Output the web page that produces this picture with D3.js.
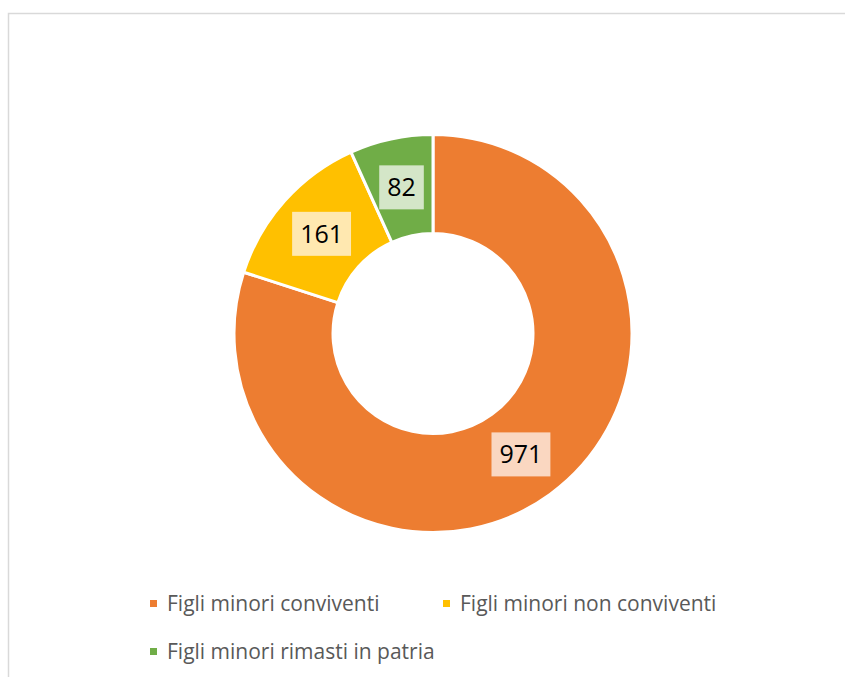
<!DOCTYPE html>
<html lang="it">
<head>
    <meta charset="UTF-8">
    <title>Figli minori</title>
    <script src="https://d3js.org/d3.v7.min.js"></script>
    <style>
        body { margin: 0; background: #fff; font-family: "Open Sans", sans-serif; }
        .legend-text { fill: #595959; font-size: 21px; }
        .label-text { fill: #000; font-size: 25px; }
    </style>
</head>
<body>
    <svg id="chart" width="845" height="677"></svg>
    <script>
        const categories = ["Figli minori conviventi", "Figli minori non conviventi", "Figli minori rimasti in patria"];
        const values = [971, 161, 82];
        const colors = ["#ED7D31", "#FFC000", "#70AD47"];
        const labelFills = ["#FAD7C1", "#FFE8B0", "#D4E6C8"];

        const width = 845, height = 677;
        const cx = 433, cy = 333.5;
        const outerR = 199, innerR = 100;

        const svg = d3.select("#chart");

        // chart frame
        svg.append("rect")
            .attr("x", 8.5).attr("y", 13.5)
            .attr("width", 900).attr("height", 700)
            .attr("fill", "none")
            .attr("stroke", "#d9d9d9")
            .attr("stroke-width", 1.5);

        const pie = d3.pie().sort(null).value(d => d);
        const arcs = pie(values);
        const arc = d3.arc().innerRadius(innerR).outerRadius(outerR);

        const g = svg.append("g").attr("transform", `translate(${cx},${cy})`);

        g.selectAll("path")
            .data(arcs)
            .enter().append("path")
            .attr("d", arc)
            .attr("fill", (d, i) => colors[i])
            .attr("stroke", "#fff")
            .attr("stroke-width", 3);

        // data labels
        const labels = g.selectAll(".label")
            .data(arcs)
            .enter().append("g")
            .attr("class", "label")
            .attr("transform", d => `translate(${arc.centroid(d)})`);

        labels.append("text")
            .attr("class", "label-text")
            .attr("text-anchor", "middle")
            .attr("dy", "0.35em")
            .text(d => d.data);

        labels.each(function(d, i) {
            const t = d3.select(this).select("text");
            const w = t.node().getComputedTextLength();
            d3.select(this).insert("rect", "text")
                .attr("x", -w / 2 - 8)
                .attr("y", -22)
                .attr("width", w + 16)
                .attr("height", 44)
                .attr("fill", labelFills[i]);
        });

        // legend
        const legendPos = [[150, 603.5], [443, 603.5], [150, 651.5]];
        const legend = svg.selectAll(".legend")
            .data(categories)
            .enter().append("g")
            .attr("class", "legend")
            .attr("transform", (d, i) => `translate(${legendPos[i][0]},${legendPos[i][1]})`);

        legend.append("rect")
            .attr("x", 0).attr("y", -3.5)
            .attr("width", 7).attr("height", 7)
            .attr("fill", (d, i) => colors[i]);

        legend.append("text")
            .attr("class", "legend-text")
            .attr("x", 17)
            .attr("dy", "0.35em")
            .text(d => d);
    </script>
</body>
</html>
